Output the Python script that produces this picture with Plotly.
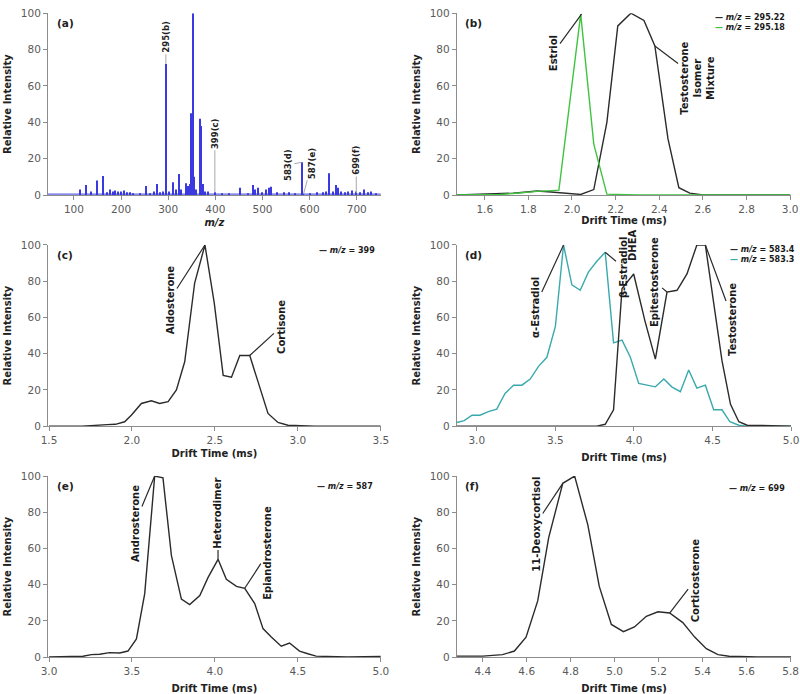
import plotly.graph_objects as go

FONT = "DejaVu Sans"

# ---------------- (a) mass spectrum ----------------
ms_mz = [113, 125, 137, 150, 162, 170, 176, 182, 188, 194,
         200, 206, 212, 218, 225, 240, 252, 262, 270, 276,
         283, 290, 295, 302, 311, 316, 322, 328, 337, 342,
         346, 348, 352, 355, 360, 367, 369, 373, 378, 385,
         399, 415, 430, 452, 470, 480, 484, 490, 500, 508,
         514, 519, 530, 545, 556, 570, 583, 587, 600, 615,
         628, 635, 641, 650, 656, 660, 667, 675, 682, 689,
         699, 707, 715, 723, 731, 740]
ms_int = [3, 5.5, 2, 8, 10.5, 1.5, 3, 2, 2.5, 2,
          2, 2.5, 1.5, 1.5, 1, 1, 5, 1, 2, 6,
          1.5, 2, 72, 2, 7, 3, 11.5, 3, 6.5, 5,
          6, 45, 100, 10, 3, 42, 38, 6, 2, 2,
          1.5, 1, 1, 4, 1, 5.5, 3, 4, 1.5, 3,
          4, 4.5, 1.5, 1.5, 1.5, 1, 18, 1, 1, 1.5,
          1.5, 2, 12, 2, 5.5, 4, 2, 1.5, 2, 2.5,
          2, 1.5, 3, 1.5, 2, 1]
ms_baseline_mz = [45, 751]
ms_baseline_int = [0.5, 0.5]

a_labels = ["295(b)", "399(c)", "583(d)", "587(e)", "699(f)"]
a_text_mz = [295, 399, 554, 605, 699]
a_text_int = [87, 34, 16.5, 17.5, 19]
a_target_mz = [295, 399, 583, 587, 699]
a_target_int = [72, 1.5, 18, 0.5, 1]

# ---------------- (b) m/z 295 ----------------
b_t_295_22 = [1.472, 1.58, 1.67, 1.73, 1.78, 1.84, 1.89, 1.94, 1.99, 2.04, 2.10,
              2.16, 2.21, 2.27, 2.33, 2.38, 2.44, 2.49, 2.54, 2.60, 2.80, 3.0]
b_i_295_22 = [0, 0.3, 0.5, 1, 1.5, 2.2, 1.8, 1.3, 0.5, 0.3, 3,
              40, 93, 100, 96, 82, 31, 4, 1, 0, 0, 0]
b_t_295_18 = [1.472, 1.60, 1.67, 1.73, 1.78, 1.84, 1.89, 1.94, 2.04, 2.10, 2.16, 2.30, 2.60, 3.0]
b_i_295_18 = [0, 0, 0.3, 0.8, 1.5, 2, 2.3, 2.7, 99.5, 28, 0.5, 0, 0, 0]

# ---------------- (c) m/z 399 ----------------
c_t = [1.5, 1.7, 1.85, 1.90, 1.956, 1.996, 2.057, 2.117, 2.167, 2.218, 2.268, 2.318,
       2.378, 2.44, 2.496, 2.55, 2.60, 2.65, 2.71, 2.766, 2.82, 2.88, 2.94, 3.1, 3.5]
c_i = [0, 0, 0.8, 1, 2.4, 6, 12.5, 14, 12.5, 13.5, 20, 35.5,
       79, 100, 68, 28, 27, 39, 39, 22, 7, 2, 0.5, 0, 0]

# ---------------- (d) m/z 583 ----------------
d_t_583_3 = [2.873, 2.92, 2.97, 3.02, 3.074, 3.127, 3.18, 3.234, 3.287, 3.34,
             3.393, 3.446, 3.50, 3.552, 3.605, 3.658, 3.71, 3.764, 3.817, 3.87,
             3.924, 3.977, 4.03, 4.083, 4.136, 4.19, 4.24, 4.295, 4.348, 4.40,
             4.454, 4.507, 4.56, 4.61, 4.667, 4.72, 4.9, 5.0]
d_i_583_3 = [2, 3, 6, 6, 8, 9.4, 18, 22.6, 22.6, 26,
             33, 38, 55, 100, 78, 75, 85, 91, 96, 46,
             47.5, 38, 23.6, 22.6, 21.7, 26, 21.7, 19, 31, 21,
             22.6, 9, 9, 2.4, 0.5, 0, 0, 0]
d_t_583_4 = [2.873, 3.5, 3.764, 3.817, 3.87, 3.924, 3.998, 4.07, 4.136, 4.21,
             4.274, 4.337, 4.40, 4.454, 4.507, 4.56, 4.614, 4.667, 4.72, 4.9, 5.0]
d_i_583_4 = [0, 0, 0, 1, 9, 76, 84, 58, 37, 74,
             75, 84, 100, 100, 69, 36, 12, 2.4, 0.5, 0, 0]

# ---------------- (e) m/z 587 ----------------
e_t = [3.0, 3.205, 3.255, 3.305, 3.366, 3.426, 3.476, 3.527, 3.577, 3.637,
       3.687, 3.738, 3.798, 3.848, 3.909, 3.959, 4.019, 4.069, 4.13, 4.18,
       4.24, 4.29, 4.34, 4.40, 4.45, 4.51, 4.56, 4.61, 4.8, 5.0]
e_i = [0, 0.4, 1.3, 1.5, 2.4, 2.2, 3.3, 10, 35, 100,
       99, 56, 32, 29, 34, 44, 54, 43, 39, 38,
       29.5, 15.7, 11, 6, 7.7, 3.3, 1.8, 0.5, 0, 0.3]

# ---------------- (f) m/z 699 ----------------
f_t = [4.282, 4.40, 4.49, 4.544, 4.597, 4.65, 4.70, 4.764, 4.818, 4.878, 4.93, 4.985,
       5.04, 5.09, 5.144, 5.197, 5.25, 5.31, 5.364, 5.417, 5.47, 5.52, 5.65, 5.803]
f_i = [0.5, 0.5, 1.3, 3.3, 11, 31, 66, 96, 100, 73, 39, 18,
       14, 16.6, 22.5, 25, 24.3, 19, 11, 4.6, 1.3, 0.4, 0, 0]

# compound labels: (panel, text, text_x, text_y, target_x, target_y, arrow)
compound_labels = [
    ("b", "Estriol", 1.913, 78, 2.044, 99.5, True),
    ("b", "Testosterone<br>Isomer<br>Mixture", 2.578, 64, 2.38, 82, True),
    ("c", "Aldosterone", 2.229, 70, 2.44, 100, True),
    ("c", "Cortisone", 2.898, 54.7, 2.71, 39, True),
    ("d", "α-Estradiol", 3.369, 65.7, 3.552, 100, True),
    ("d", "β-Estradiol", 3.93, 87.8, 3.817, 96, True),
    ("d", "DHEA", 3.994, 100, 3.994, 100, False),
    ("d", "Epitestosterone", 4.134, 79.6, 4.21, 74, True),
    ("d", "Testosterone", 4.63, 58.6, 4.454, 100, True),
    ("e", "Androsterone", 3.518, 74, 3.637, 100, True),
    ("e", "Heterodimer", 4.018, 79.6, 4.019, 54, True),
    ("e", "Epiandrosterone", 4.319, 57.5, 4.18, 38, True),
    ("f", "11-Deoxycortisol", 4.641, 73.5, 4.764, 96, True),
    ("f", "Corticosterone", 5.366, 42.5, 5.25, 24.3, True),
]

panel_names = ["a", "b", "c", "d", "e", "f"]
x_ranges = [[45, 751], [1.472, 3.005], [1.494, 3.5], [2.873, 5.0], [2.994, 5.0], [4.282, 5.803]]
x_ticks = [[100, 200, 300, 400, 500, 600, 700],
           [1.6, 1.8, 2.0, 2.2, 2.4, 2.6, 2.8, 3.0],
           [1.5, 2.0, 2.5, 3.0, 3.5],
           [3.0, 3.5, 4.0, 4.5, 5.0],
           [3.0, 3.5, 4.0, 4.5, 5.0],
           [4.4, 4.6, 4.8, 5.0, 5.2, 5.4, 5.6, 5.8]]
y_ticks = [0, 20, 40, 60, 80, 100]
x_title_standoff = [5, 1, 5, 9, 10, 12]

C_BLACK = "#2b2b2b"
C_GREEN = "#3ec43e"
C_TEAL = "#3aa9ad"
C_BLUE = "#3a3ae0"

# legends per panel: (series colours, series labels, x_right_paper, y_top_paper)
legend_groups = [
    ([C_BLACK, C_GREEN], ["295.22", "295.18"], 0.984, 0.984),
    ([C_BLACK], ["399"], 0.471, 0.648),
    ([C_BLACK, C_TEAL], ["583.4", "583.3"], 0.996, 0.650),
    ([C_BLACK], ["587"], 0.469, 0.308),
    ([C_BLACK], ["699"], 0.984, 0.305),
]

x_domains = {"L": [0.06, 0.476], "R": [0.571, 0.989]}
y_domains = {1: [0.719, 0.981], 2: [0.386, 0.647], 3: [0.0533, 0.314]}
panel_pos = {"a": ("L", 1), "b": ("R", 1), "c": ("L", 2), "d": ("R", 2), "e": ("L", 3), "f": ("R", 3)}


def axid(p):
    i = panel_names.index(p) + 1
    return ("x" if i == 1 else f"x{i}"), ("y" if i == 1 else f"y{i}")


fig = go.Figure()

# (a)
fig.add_trace(go.Scatter(x=ms_baseline_mz, y=ms_baseline_int, mode="lines",
                         line=dict(color=C_BLUE, width=1), showlegend=False,
                         xaxis="x", yaxis="y"))
fig.add_trace(go.Bar(x=ms_mz, y=ms_int, width=2.2, marker=dict(color=C_BLUE, line=dict(width=0)),
                     showlegend=False, xaxis="x", yaxis="y"))


def line_trace(p, x, y, color, name):
    xa, ya = axid(p)
    return go.Scatter(x=x, y=y, mode="lines", name=name, line=dict(color=color, width=1.4),
                      showlegend=False, cliponaxis=False, xaxis=xa, yaxis=ya)


fig.add_trace(line_trace("b", b_t_295_22, b_i_295_22, C_BLACK, "m/z = 295.22"))
fig.add_trace(line_trace("b", b_t_295_18, b_i_295_18, C_GREEN, "m/z = 295.18"))
fig.add_trace(line_trace("c", c_t, c_i, C_BLACK, "m/z = 399"))
fig.add_trace(line_trace("d", d_t_583_3, d_i_583_3, C_TEAL, "m/z = 583.3"))
fig.add_trace(line_trace("d", d_t_583_4, d_i_583_4, C_BLACK, "m/z = 583.4"))
fig.add_trace(line_trace("e", e_t, e_i, C_BLACK, "m/z = 587"))
fig.add_trace(line_trace("f", f_t, f_i, C_BLACK, "m/z = 699"))

layout_axes = {}
tickfont = dict(family=FONT, size=10.5, color="#5a5a5a")
titlefont = dict(family=FONT, size=10, color="#222222")
for i, p in enumerate(panel_names):
    col, row = panel_pos[p]
    xa, ya = axid(p)
    xkey = "xaxis" if i == 0 else f"xaxis{i+1}"
    ykey = "yaxis" if i == 0 else f"yaxis{i+1}"
    xtitle = "<b><i>m/z</i></b>" if p == "a" else "<b>Drift Time (ms)</b>"
    xfmt = "d" if p == "a" else ".1f"
    layout_axes[xkey] = dict(domain=x_domains[col], anchor=ya, range=x_ranges[i],
                             tickvals=x_ticks[i], tickformat=xfmt,
                             showline=True, linecolor="#8c8c8c", linewidth=1,
                             ticks="outside", ticklen=4, tickcolor="#8c8c8c",
                             tickfont=tickfont, showgrid=False, zeroline=False,
                             title=dict(text=xtitle, font=titlefont, standoff=x_title_standoff[i]),
                             automargin=False)
    layout_axes[ykey] = dict(domain=y_domains[row], anchor=xa, range=[0, 100],
                             tickvals=y_ticks,
                             showline=True, linecolor="#8c8c8c", linewidth=1,
                             ticks="outside", ticklen=4, tickcolor="#8c8c8c",
                             tickfont=tickfont, showgrid=False, zeroline=False,
                             title=dict(text="<b>Relative Intensity</b>", font=titlefont, standoff=7),
                             automargin=False)

annotations = []
# panel letters
for p in panel_names:
    xa, ya = axid(p)
    annotations.append(dict(text=f"<b>({p})</b>", xref=f"{xa} domain", yref=f"{ya} domain",
                            x=0.02, y=0.945, xanchor="left", yanchor="middle", showarrow=False,
                            font=dict(family=FONT, size=10.5, color="#222222")))

# (a) peak labels
for lab, tx, ty, px_, py_ in zip(a_labels, a_text_mz, a_text_int, a_target_mz, a_target_int):
    annotations.append(dict(text=f"<b>{lab}</b>", x=px_, y=py_, ax=tx, ay=ty,
                            xref="x", yref="y", axref="x", ayref="y", textangle=-90,
                            showarrow=True, arrowhead=0, arrowwidth=1, arrowcolor="#a8a8a8",
                            standoff=0, startstandoff=0,
                            font=dict(family=FONT, size=8.5, color="#222222")))

# compound labels
for p, txt, tx, ty, px_, py_, arrow in compound_labels:
    xa, ya = axid(p)
    ann = dict(text=f"<b>{txt}</b>", xref=xa, yref=ya, textangle=-90,
               font=dict(family=FONT, size=10, color="#1a1a1a"))
    if arrow:
        ann.update(x=px_, y=py_, ax=tx, ay=ty, axref=xa, ayref=ya, showarrow=True,
                   arrowhead=0, arrowwidth=1.2, arrowcolor="#2b2b2b", standoff=0)
    else:
        ann.update(x=tx, y=ty, showarrow=False)
    annotations.append(ann)

# legends (one text block per panel)
for colors, labels, xr, yt in legend_groups:
    lines = [f"<span style='color:{c}'><b>—</b></span><b> <i>m/z</i> = {lab}</b>"
             for c, lab in zip(colors, labels)]
    annotations.append(dict(
        text="<br>".join(lines), align="right",
        xref="paper", yref="paper", x=xr, y=yt, xanchor="right", yanchor="top",
        showarrow=False, font=dict(family=FONT, size=8, color="#1a1a1a")))

fig.update_layout(
    width=800, height=694,
    margin=dict(l=0, r=0, t=0, b=0),
    paper_bgcolor="white", plot_bgcolor="white",
    template="none",
    barmode="overlay",
    showlegend=False,
    annotations=annotations,
    font=dict(family=FONT),
    **layout_axes,
)

fig.write_html("out.html", config={"displayModeBar": False},
               post_script="document.body.style.margin='0px';")
